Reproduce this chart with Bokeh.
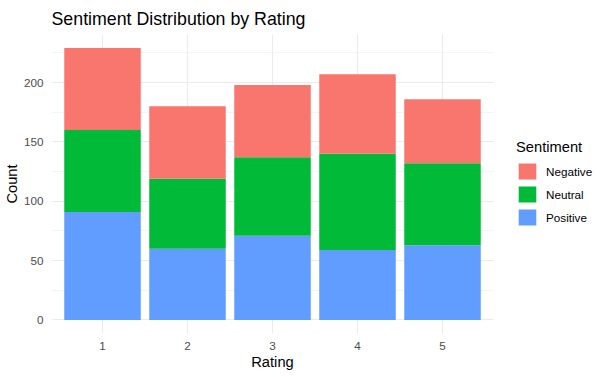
from bokeh.plotting import figure
from bokeh.models import (ColumnDataSource, Range1d, FixedTicker, SingleIntervalTicker,
                          Legend, LegendItem)
from bokeh.embed import file_html
from bokeh.resources import INLINE

ratings = [1, 2, 3, 4, 5]
positive = [91, 60, 71, 59, 63]
neutral = [69, 59, 66, 81, 69]
negative = [69, 61, 61, 67, 54]
sentiments = ["Positive", "Neutral", "Negative"]
colors = ["#619CFF", "#00BA38", "#F8766D"]

totals = [a + b + c for a, b, c in zip(positive, neutral, negative)]
ymax = max(totals)

src = ColumnDataSource(dict(x=ratings, Positive=positive, Neutral=neutral, Negative=negative))

FONT = "Liberation Sans"

p = figure(frame_width=442, frame_height=299, min_border_left=45, min_border_top=25,
           min_border_right=108, min_border_bottom=37,
           x_range=Range1d(0.4, 5.6), y_range=Range1d(-0.05 * ymax, 1.05 * ymax),
           output_backend="svg", toolbar_location=None, title="Sentiment Distribution by Rating")
p.outline_line_color = None
p.background_fill_color = "white"
p.border_fill_color = "white"

p.title.text_font = FONT
p.title.text_font_size = "17.8px"
p.title.text_font_style = "normal"
p.title.text_color = "black"
p.title.offset = 0
p.title.standoff = 12

rs = p.vbar_stack(sentiments, x="x", width=0.9, source=src, color=colors, line_color=None)

p.xaxis.ticker = FixedTicker(ticks=ratings)
p.yaxis.ticker = SingleIntervalTicker(interval=50, num_minor_ticks=2)
for ax in (p.xaxis[0], p.yaxis[0]):
    ax.axis_line_color = None
    ax.major_tick_line_color = None
    ax.minor_tick_line_color = None
    ax.major_tick_out = 0
    ax.major_tick_in = 0
    ax.minor_tick_out = 0
    ax.minor_tick_in = 0
    ax.major_label_text_font = FONT
    ax.major_label_text_font_size = "11.7px"
    ax.major_label_text_color = "#4D4D4D"
    ax.axis_label_text_font = FONT
    ax.axis_label_text_font_size = "14.7px"
    ax.axis_label_text_font_style = "normal"
    ax.axis_label_text_color = "black"
p.xaxis.axis_label = "Rating"
p.yaxis.axis_label = "Count"
p.xaxis.major_label_standoff = 8
p.xaxis.axis_label_standoff = 1
p.yaxis.major_label_standoff = 8
p.yaxis.axis_label_standoff = 1

p.xgrid.grid_line_color = "#EBEBEB"
p.xgrid.grid_line_width = 1.1
p.ygrid.grid_line_color = "#EBEBEB"
p.ygrid.grid_line_width = 1.1
p.ygrid.minor_grid_line_color = "#EBEBEB"
p.ygrid.minor_grid_line_width = 0.55

items = [LegendItem(label=s, renderers=[r]) for s, r in zip(sentiments, rs)][::-1]
legend = Legend(items=items, location=(23, 106), title="Sentiment")
legend.border_line_color = None
legend.background_fill_alpha = 0
legend.padding = 0
legend.margin = 0
legend.spacing = 3
legend.glyph_width = 22
legend.glyph_height = 20
legend.label_standoff = 8
legend.label_text_font = FONT
legend.label_text_font_size = "11.7px"
legend.label_text_color = "black"
legend.title_text_font = FONT
legend.title_text_font_size = "14.7px"
legend.title_text_font_style = "normal"
legend.title_text_color = "black"
legend.title_standoff = 6
p.add_layout(legend, "right")

open("out.html", "w").write(file_html(p, INLINE))
